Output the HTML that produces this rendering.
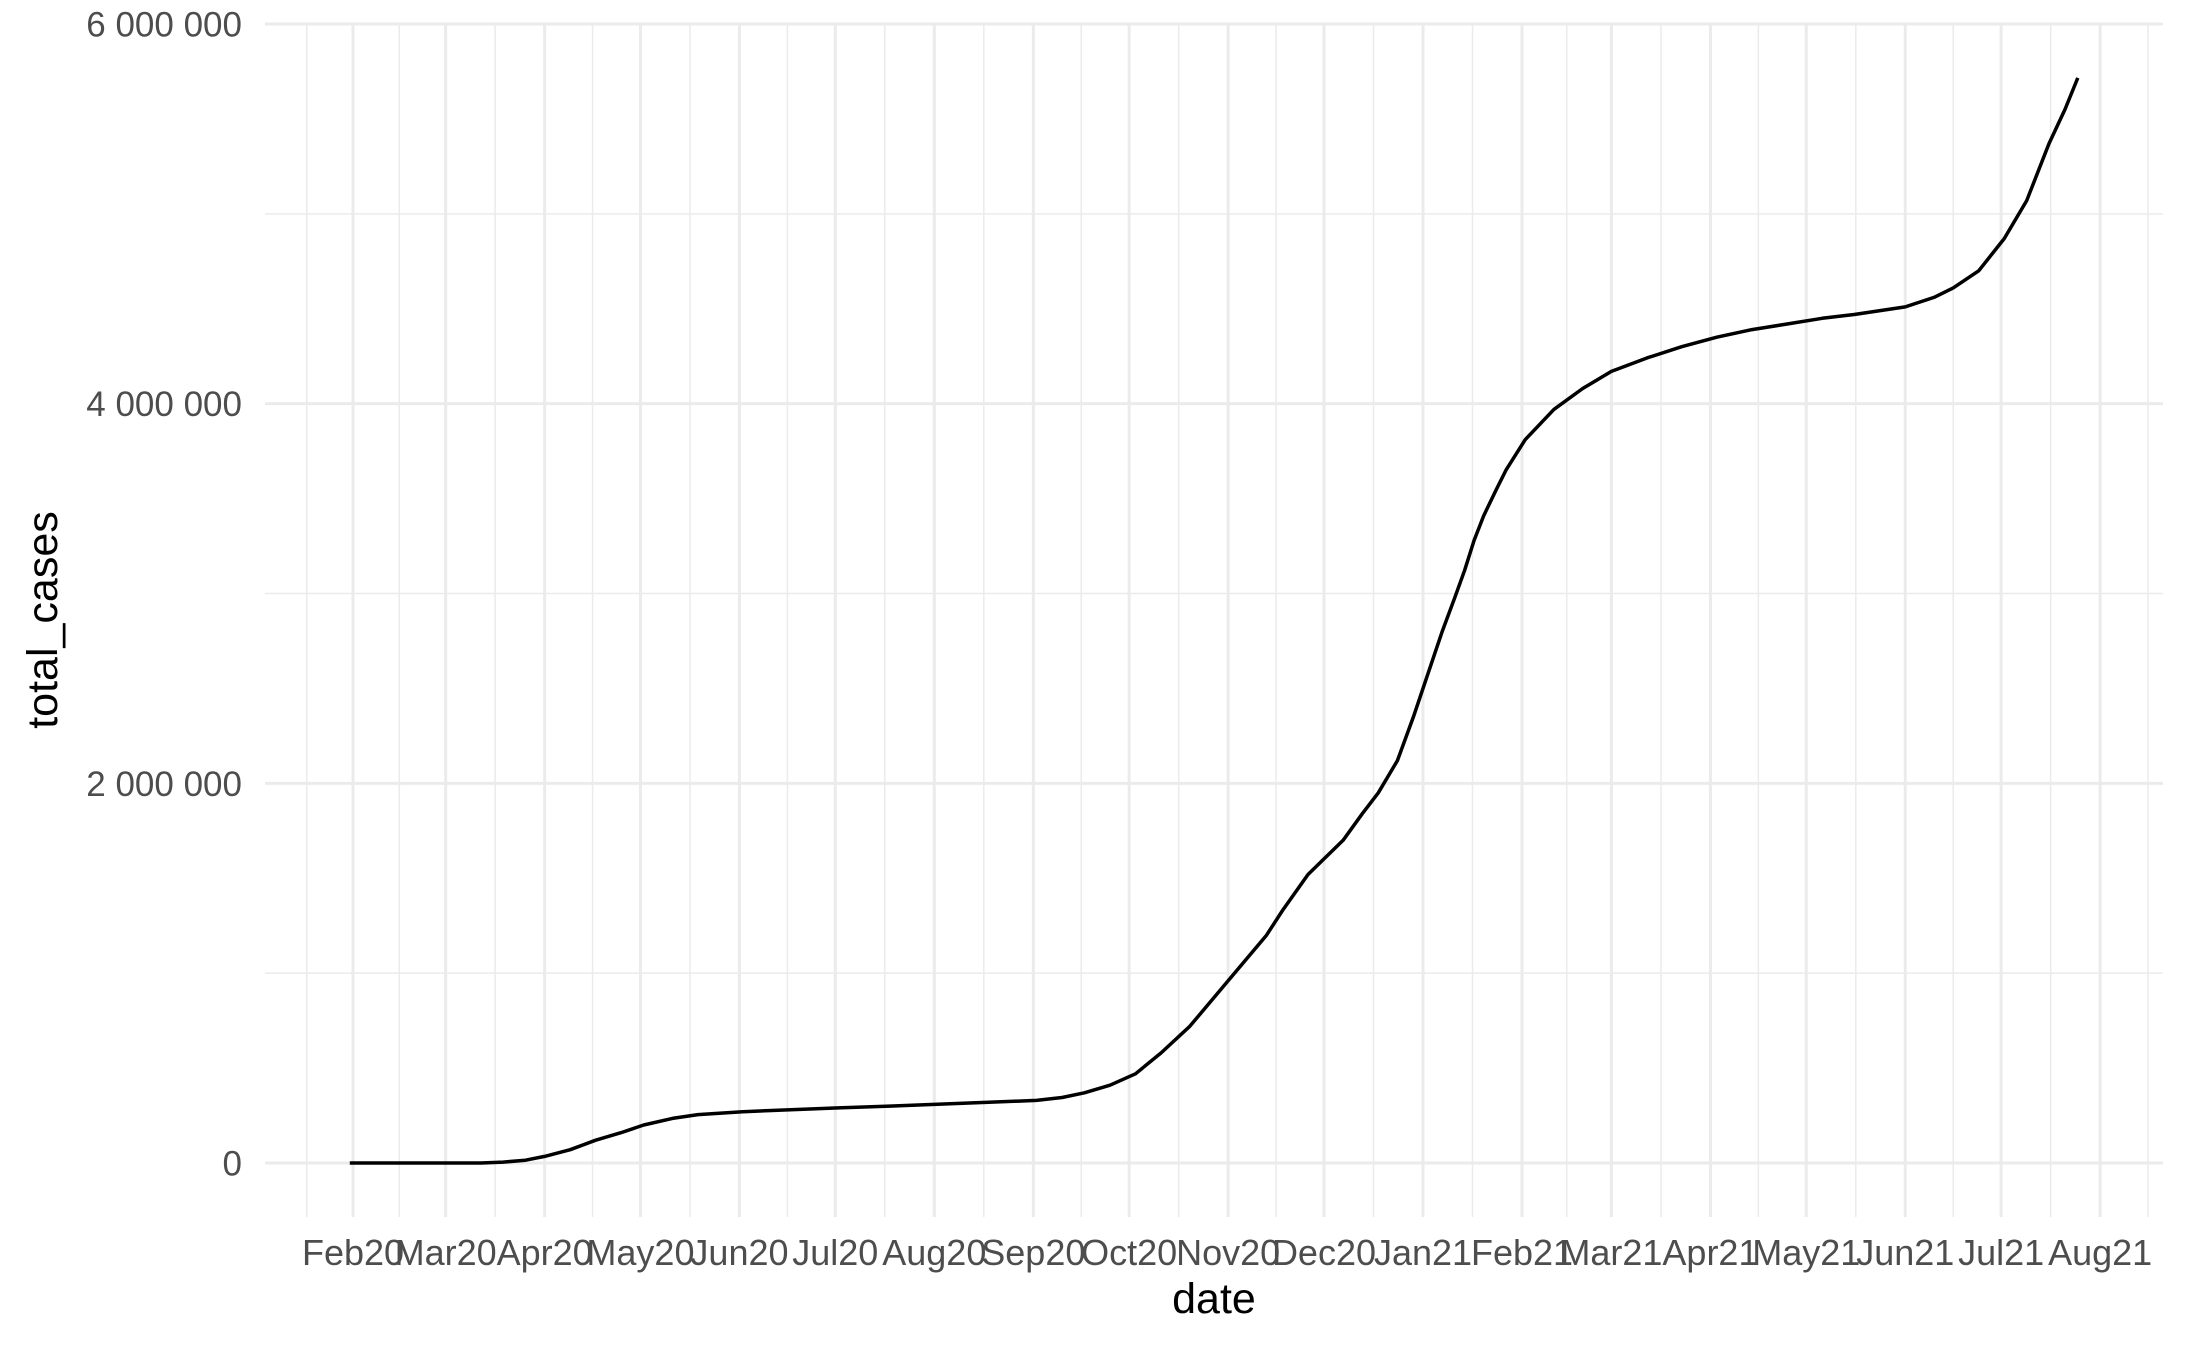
<!DOCTYPE html>
<html><head><meta charset="utf-8"><style>
html,body{margin:0;padding:0;background:#fff;}
svg{display:block;font-family:"Liberation Sans",Arial,sans-serif;}
</style></head><body>
<svg id="chart" width="2187" height="1350" viewBox="0 0 2187 1350" xmlns="http://www.w3.org/2000/svg">
<g id="grid"></g>
<g id="ylabels"></g>
<g id="xlabels"></g>
<path id="line" fill="none" stroke="#000" stroke-width="3.5" stroke-linejoin="round"/>
<text x="1214" y="1313" text-anchor="middle" font-size="43" fill="#000">date</text>
<text transform="translate(57,620) rotate(-90)" text-anchor="middle" font-size="43" fill="#000">total_cases</text>
</svg>
<script>
// data: days since 2020-02-01, total cases in millions
const days = [-1,20,40,47,54,60,68,76,84,91,100,108,122,137,152,168,183,199,214,222,229,237,245,253,262,275,286,291,299,310,316,321,327,332,337,341,345,348,351,354,358,361,367,376,385,394,405,416,427,438,449,460,470,486,495,501,509,517,524,531,536,540];
const cases = [0,0,0,0.005,0.015,0.035,0.07,0.12,0.16,0.2,0.235,0.255,0.27,0.28,0.29,0.3,0.31,0.32,0.33,0.345,0.37,0.41,0.47,0.58,0.72,0.98,1.2,1.33,1.52,1.7,1.84,1.95,2.12,2.35,2.6,2.8,2.98,3.12,3.28,3.41,3.55,3.65,3.81,3.97,4.08,4.17,4.24,4.3,4.35,4.39,4.42,4.45,4.47,4.51,4.56,4.61,4.7,4.87,5.07,5.37,5.55,5.716];
const yTicks = [0,2,4,6];
const yTickLabels = ["0","2 000 000","4 000 000","6 000 000"];
const xTickDays = [0,29,60,90,121,151,182,213,243,274,304,335,366,394,425,455,486,516,547];
const xTickLabels = ["Feb20","Mar20","Apr20","May20","Jun20","Jul20","Aug20","Sep20","Oct20","Nov20","Dec20","Jan21","Feb21","Mar21","Apr21","May21","Jun21","Jul21","Aug21"];

const L=265,R=2163,T=24,B=1217;
const x = d => 353 + d*3.194;
const y = v => 1163 - v*189.83;
const NS="http://www.w3.org/2000/svg";
function mk(tag,parent){const e=document.createElementNS(NS,tag);parent.appendChild(e);return e;}
const grid=document.getElementById('grid');
for(let i=0;i<yTicks.length-1;i++){
  const v=(yTicks[i]+yTicks[i+1])/2;
  const l=mk('line',grid);
  
  
  l.setAttribute('x1',L);l.setAttribute('x2',R);l.setAttribute('y1',y(v));l.setAttribute('y2',y(v));
  l.setAttribute('stroke','#ebebeb');l.setAttribute('stroke-width','1.5');
}
const minors=[];
minors.push(xTickDays[0]-(xTickDays[1]-xTickDays[0])/2);
for(let i=0;i<xTickDays.length-1;i++) minors.push((xTickDays[i]+xTickDays[i+1])/2);
minors.push(xTickDays[xTickDays.length-1]+15);
minors.forEach(d=>{
  const l=mk('line',grid);
  
  
  l.setAttribute('x1',x(d));l.setAttribute('x2',x(d));l.setAttribute('y1',T);l.setAttribute('y2',B);
  l.setAttribute('stroke','#ebebeb');l.setAttribute('stroke-width','1.5');
});
yTicks.forEach(v=>{
  const l=mk('line',grid);
  
  
  l.setAttribute('x1',L);l.setAttribute('x2',R);l.setAttribute('y1',y(v));l.setAttribute('y2',y(v));
  l.setAttribute('stroke','#ebebeb');l.setAttribute('stroke-width','3');
});
xTickDays.forEach(d=>{
  const l=mk('line',grid);
  
  
  l.setAttribute('x1',x(d));l.setAttribute('x2',x(d));l.setAttribute('y1',T);l.setAttribute('y2',B);
  l.setAttribute('stroke','#ebebeb');l.setAttribute('stroke-width','3');
});
const yl=document.getElementById('ylabels');
yTicks.forEach((v,i)=>{
  const t=mk('text',yl);
  
  
  t.setAttribute('x',242);t.setAttribute('y',y(v)+12.5);
  t.setAttribute('text-anchor','end');t.setAttribute('font-size','35');t.setAttribute('fill','#4d4d4d');
  t.textContent=yTickLabels[i];
});
const xl=document.getElementById('xlabels');
xTickDays.forEach((d,i)=>{
  const t=mk('text',xl);
  
  
  t.setAttribute('x',x(d));t.setAttribute('y',1265);
  t.setAttribute('text-anchor','middle');t.setAttribute('font-size','36');t.setAttribute('fill','#4d4d4d');
  t.textContent=xTickLabels[i];
});
document.getElementById('line').setAttribute('d',days.map((d,i)=>(i?'L':'M')+x(d).toFixed(1)+','+y(cases[i]).toFixed(1)).join(' '));
</script>
</body></html>
